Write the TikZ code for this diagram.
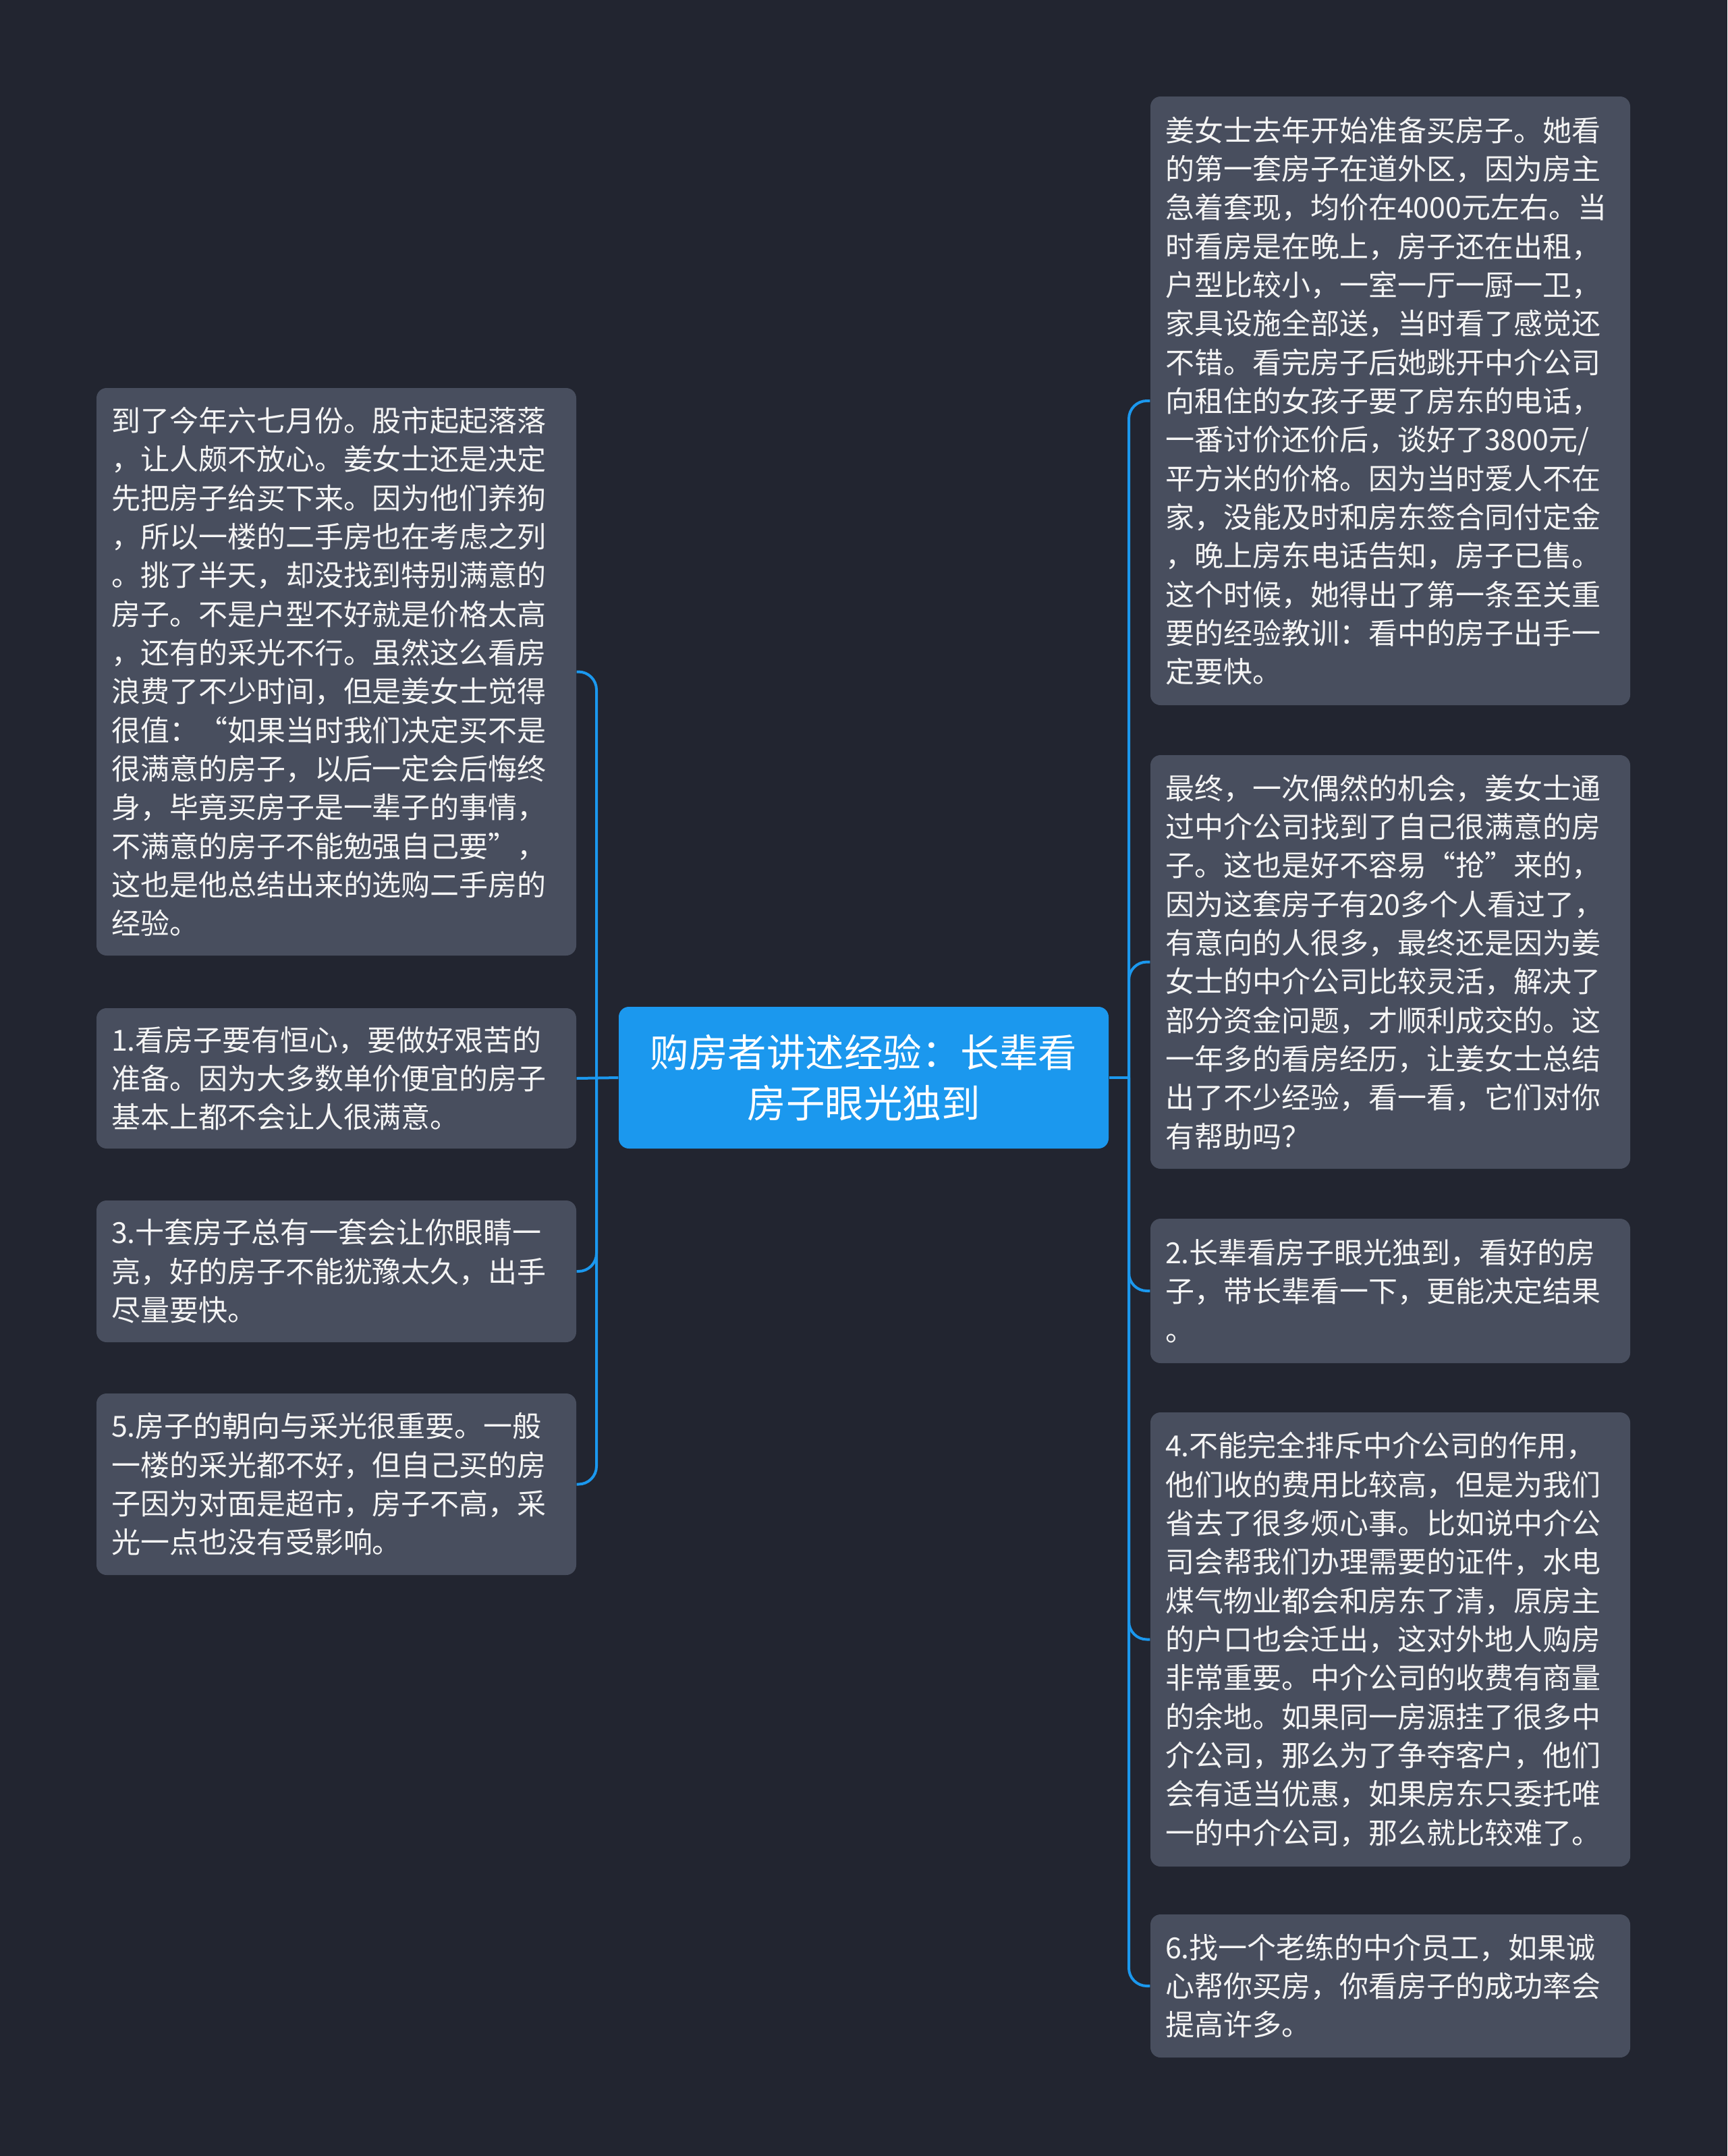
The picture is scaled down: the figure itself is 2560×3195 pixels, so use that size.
\documentclass[tikz,border=0pt]{standalone}
\usepackage{fontspec}
\setmainfont{Noto Sans CJK SC}
\definecolor{bgc}{HTML}{222530}
\definecolor{boxc}{HTML}{484E5E}
\definecolor{bluec}{HTML}{1B98EE}
\definecolor{txtc}{HTML}{F4F4F4}
\begin{document}
\begin{tikzpicture}[x=0.3pt,y=-0.3pt,
  leaf/.style={draw=none,fill=boxc,rounded corners=4.5pt,text=txtc,
    text width=200.1pt,inner xsep=6.6pt,inner ysep=0pt,align=left,
    font=\fontsize{12.9pt}{17.2pt}\selectfont},
  root/.style={draw=none,fill=bluec,rounded corners=4.5pt,text=white,
    minimum width=217.8pt,minimum height=63pt,inner sep=0pt,align=center,
    font=\fontsize{17.25pt}{22.5pt}\selectfont},
  link/.style={draw=bluec,line width=1.2pt,rounded corners=8pt}]
\fill[bgc] (0,0) rectangle (2560,3195);
\useasboundingbox (0,0) rectangle (2560,3195);

\node[root] (c) at (1280,1597) {购房者讲述经验：长辈看\\房子眼光独到};

\node[leaf,minimum height=252.3pt] (L1) at (498.5,995.5) {到了今年六七月份。股市起起落落\\，让人颇不放心。姜女士还是决定\\先把房子给买下来。因为他们养狗\\，所以一楼的二手房也在考虑之列\\。挑了半天，却没找到特别满意的\\房子。不是户型不好就是价格太高\\，还有的采光不行。虽然这么看房\\浪费了不少时间，但是姜女士觉得\\很值：“如果当时我们决定买不是\\很满意的房子，以后一定会后悔终\\身，毕竟买房子是一辈子的事情，\\不满意的房子不能勉强自己要”，\\这也是他总结出来的选购二手房的\\经验。};
\node[leaf,minimum height=62.4pt] (L2) at (498.5,1598) {1.看房子要有恒心，要做好艰苦的\\准备。因为大多数单价便宜的房子\\基本上都不会让人很满意。};
\node[leaf,minimum height=63pt] (L3) at (498.5,1884) {3.十套房子总有一套会让你眼睛一\\亮，好的房子不能犹豫太久，出手\\尽量要快。};
\node[leaf,minimum height=80.7pt] (L4) at (498.5,2199.5) {5.房子的朝向与采光很重要。一般\\一楼的采光都不好，但自己买的房\\子因为对面是超市，房子不高，采\\光一点也没有受影响。};

\node[leaf,minimum height=270.6pt] (R1) at (2060.5,594) {姜女士去年开始准备买房子。她看\\的第一套房子在道外区，因为房主\\急着套现，均价在4000元左右。当\\时看房是在晚上，房子还在出租，\\户型比较小，一室一厅一厨一卫，\\家具设施全部送，当时看了感觉还\\不错。看完房子后她跳开中介公司\\向租住的女孩子要了房东的电话，\\一番讨价还价后，谈好了3800元/\\平方米的价格。因为当时爱人不在\\家，没能及时和房东签合同付定金\\，晚上房东电话告知，房子已售。\\这个时候，她得出了第一条至关重\\要的经验教训：看中的房子出手一\\定要快。};
\node[leaf,minimum height=183.9pt] (R2) at (2060.5,1425.5) {最终，一次偶然的机会，姜女士通\\过中介公司找到了自己很满意的房\\子。这也是好不容易“抢”来的，\\因为这套房子有20多个人看过了，\\有意向的人很多，最终还是因为姜\\女士的中介公司比较灵活，解决了\\部分资金问题，才顺利成交的。这\\一年多的看房经历，让姜女士总结\\出了不少经验，看一看，它们对你\\有帮助吗？};
\node[leaf,minimum height=64.2pt] (R3) at (2060.5,1913) {2.长辈看房子眼光独到，看好的房\\子，带长辈看一下，更能决定结果\\。};
\node[leaf,minimum height=201.9pt] (R4) at (2060.5,2429.5) {4.不能完全排斥中介公司的作用，\\他们收的费用比较高，但是为我们\\省去了很多烦心事。比如说中介公\\司会帮我们办理需要的证件，水电\\煤气物业都会和房东了清，原房主\\的户口也会迁出，这对外地人购房\\非常重要。中介公司的收费有商量\\的余地。如果同一房源挂了很多中\\介公司，那么为了争夺客户，他们\\会有适当优惠，如果房东只委托唯\\一的中介公司，那么就比较难了。};
\node[leaf,minimum height=63.6pt] (R5) at (2060.5,2943) {6.找一个老练的中介员工，如果诚\\心帮你买房，你看房子的成功率会\\提高许多。};

\coordinate (lb) at (884,1597);
\coordinate (rb) at (1673,1597);

\draw[link] (c.west) -- (L2.east);
\draw[link] (lb) |- (L1.east);
\draw[link] (lb) |- (L3.east);
\draw[link] (lb) |- (L4.east);

\draw[link] (c.east) -- (rb);
\draw[link] (rb) |- (R1.west);
\draw[link] (rb) |- (R2.west);
\draw[link] (rb) |- (R3.west);
\draw[link] (rb) |- (R4.west);
\draw[link] (rb) |- (R5.west);
\end{tikzpicture}
\end{document}
